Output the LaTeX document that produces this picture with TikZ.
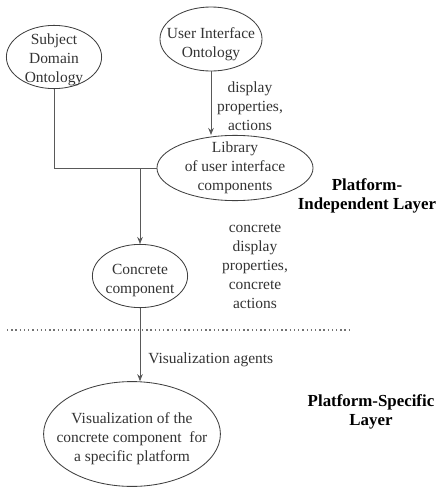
\documentclass[tikz,border=0pt]{standalone}
\usepackage{fontspec}
\setmainfont{Liberation Serif}
\usetikzlibrary{shapes,positioning,arrows.meta}

\begin{document}
\begin{tikzpicture}[x=0.025cm, y=-0.025cm,
  font=\fontsize{11}{13.5}\selectfont,
  onto/.style={draw=black!75, ellipse, inner sep=0pt, line width=0.6pt},
  txt/.style={align=center, text=black!80, inner sep=0pt},
  layer/.style={align=center, font=\fontsize{12}{14}\selectfont\bfseries, inner sep=0pt},
  arr/.style={draw=black!65, line width=0.6pt, -{Stealth[length=5pt,width=4pt]}},
  ln/.style={draw=black!65, line width=0.6pt}]
\useasboundingbox (0,0) rectangle (440,487);

% Ontologies
\node[onto, minimum width=2.38cm, minimum height=1.58cm,
  label={[txt, yshift=-2pt]center:Subject\\Domain\\Ontology}] (sdo) at (54,57) {};
\node[onto, minimum width=2.55cm, minimum height=1.6cm,
  label={[txt, yshift=-4pt]center:User Interface\\Ontology}] (uio) at (211,39) {};

% Library
\node[onto, minimum width=3.9cm, minimum height=1.63cm,
  label={[txt]center:Library\\of user interface\\components}] (lib) at (235,168) {};

% Concrete component
\node[onto, minimum width=2.38cm, minimum height=1.58cm,
  label={[txt, yshift=-3pt]center:Concrete\\component}] (cc) at (140,276) {};

% Visualization
\node[onto, minimum width=4.42cm, minimum height=2.62cm,
  label={[txt, yshift=-3pt]center:Visualization of the\\concrete component\ \ for\\a specific platform}] (vis) at (132,434) {};

% Labels
\node[txt] (dp) at (250,106) {display\\properties,\\actions};
\node[txt] (cdp) at (255,266) {concrete\\display\\properties,\\concrete\\actions};
\node[txt, anchor=west] (va) at (148,360) {Visualization agents};
\node[layer] (pil) at (367,196) {Platform-\\Independent Layer};
\node[layer] (psl) at (371,412) {Platform-Specific\\Layer};

% Layer border
\coordinate (dl) at (7,330);
\coordinate (dr) at (352,330);
\draw[black!55, line width=1pt, dotted] (dl) -- (dr);

% Arrows
\coordinate (jn) at (cc |- lib);
\draw[ln] (sdo) |- (lib);
\draw[arr] (uio.south) -- (uio.south |- lib.north);
\draw[arr] (jn) -- (cc);
\draw[arr] (cc.south) -- (cc.south |- vis.north);
\end{tikzpicture}
\end{document}
